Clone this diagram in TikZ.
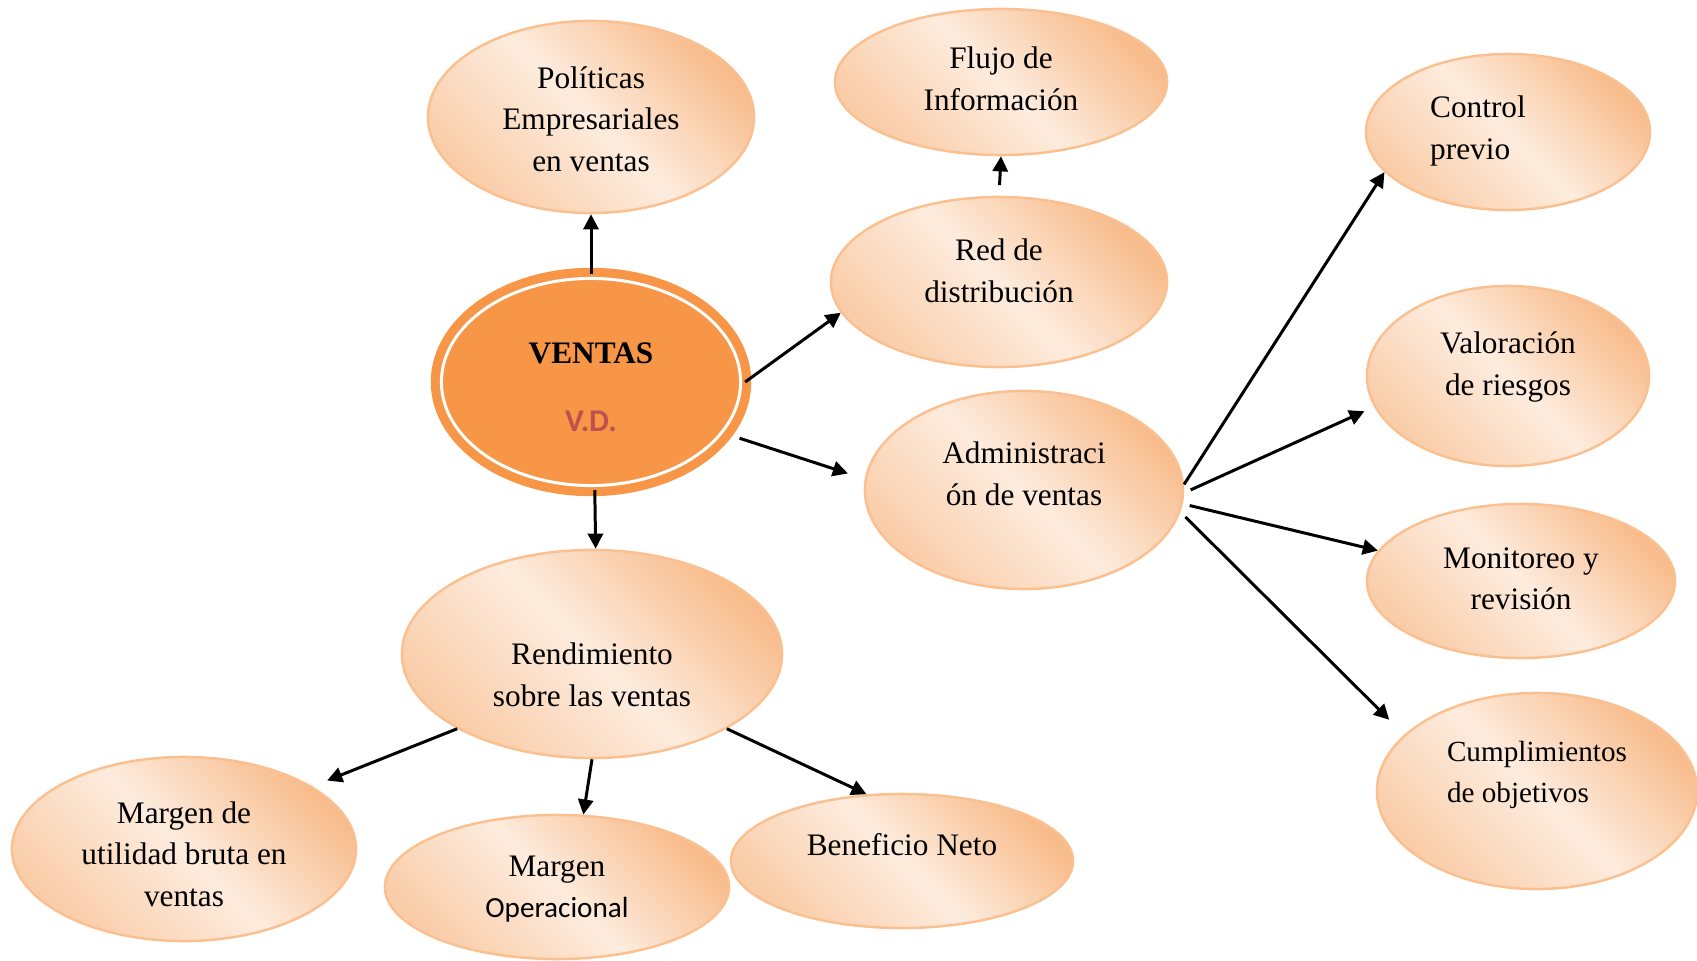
\documentclass[tikz,border=0pt]{standalone}
\usepackage{fontspec}
\setmainfont{Liberation Serif}
\newfontfamily\calibri{Carlito}
\usetikzlibrary{shapes.geometric,arrows.meta}
\definecolor{borde}{HTML}{FAC090}
\definecolor{oscuro}{HTML}{F8BC8C}
\definecolor{claro}{HTML}{FDECDE}
\definecolor{naranja}{HTML}{F79646}
\definecolor{rojizo}{HTML}{C0504D}

\begin{document}
\begin{tikzpicture}[x=0.01cm,y=-0.01cm]
\tikzstyle{burbuja}=[ellipse,draw=borde,line width=0.7pt,top color=oscuro,bottom color=oscuro!65!claro,middle color=claro,shading angle=-45,inner sep=0pt]
\tikzstyle{texto}=[align=center,font=\fontsize{8.9}{11.8}\selectfont,inner sep=0pt]
\tikzstyle{flecha}=[-{Triangle[length=4.3pt,width=4.3pt]},line width=0.85pt]
\useasboundingbox (0,0) rectangle (1697,961);
\node [ellipse,fill=naranja,draw=naranja,line width=2.6pt,double=white,double distance=0.85pt,minimum width=2.99cm,minimum height=2.07cm,inner sep=0pt,
  label={[texto,yshift=-0.05cm]center:\textbf{VENTAS}\\[7.5pt]{\calibri\bfseries\fontsize{9}{10}\selectfont\color{rojizo}V.D.}}] (vd) at (591,382) {};
\node [burbuja,minimum width=3.26cm,minimum height=1.92cm,label={[texto,yshift=-0.02cm]center:Políticas\\Empresariales\\en ventas}] (pol) at (591,117) {};
\node [burbuja,minimum width=3.32cm,minimum height=1.46cm,label={[texto,yshift=0.03cm]center:Flujo de\\Información}] (flujo) at (1001,82) {};
\node [burbuja,minimum width=3.36cm,minimum height=1.70cm,label={[texto,yshift=0.11cm]center:Red de\\distribución}] (red) at (999,282) {};
\node [burbuja,minimum width=3.18cm,minimum height=1.98cm,label={[texto,yshift=0.16cm]center:Administraci\\ón de ventas}] (adm) at (1024,490) {};
\node [burbuja,minimum width=2.84cm,minimum height=1.56cm,label={[texto,align=left,xshift=-0.30cm,yshift=0.01cm]center:Control\\previo}] (ctrl) at (1508,132) {};
\node [burbuja,minimum width=2.82cm,minimum height=1.80cm,label={[texto,yshift=0.09cm]center:Valoración\\de riesgos}] (val) at (1508,376) {};
\node [burbuja,minimum width=3.08cm,minimum height=1.54cm,label={[texto,yshift=0.02cm]center:Monitoreo y\\revisión}] (mon) at (1521,581) {};
\node [burbuja,minimum width=3.20cm,minimum height=1.96cm,label={[texto,align=left,yshift=0.16cm,font=\fontsize{8.3}{11.6}\selectfont]center:Cumplimientos\\de objetivos}] (cum) at (1537,791) {};
\node [burbuja,minimum width=3.80cm,minimum height=2.08cm,label={[texto,yshift=-0.21cm]center:Rendimiento\\sobre las ventas}] (ren) at (592,654) {};
\node [burbuja,minimum width=3.44cm,minimum height=1.84cm,label={[texto,yshift=-0.05cm]center:Margen de\\utilidad bruta en\\ventas}] (mub) at (184,849) {};
\node [burbuja,minimum width=3.44cm,minimum height=1.44cm,label={[texto,yshift=-0.02cm]center:Margen\\{\calibri\fontsize{8.3}{10}\selectfont Operacional}}] (mop) at (557,887) {};
\node [burbuja,minimum width=3.42cm,minimum height=1.34cm,label={[texto,yshift=0.16cm]center:Beneficio Neto}] (ben) at (902,861) {};
\draw [flecha] (vd.north) -- (pol.south);
\draw [flecha,shorten <=3pt] (red.north) -- (flujo.south);
\draw [flecha] (vd.east) -- (red.191);
\draw [flecha,shorten <=4pt,shorten >=5pt] (vd.-21) -- (adm.176);
\draw [flecha] (vd.-88) -- (ren.88);
\draw [flecha] (adm.2) -- (ctrl.198);
\draw [flecha,shorten <=2pt,shorten >=3pt] (adm.-1) -- (val.193);
\draw [flecha,shorten <=2pt] (adm.-5) -- (mon.168);
\draw [flecha,shorten <=2pt,shorten >=6pt] (adm.-8) -- (cum.157);
\draw [flecha,shorten >=4.5pt] (ren.209) -- (mub.26);
\draw [flecha] (ren.south) -- (mop.70);
\draw [flecha] (ren.-29) -- (ben.118);
\end{tikzpicture}
\end{document}
